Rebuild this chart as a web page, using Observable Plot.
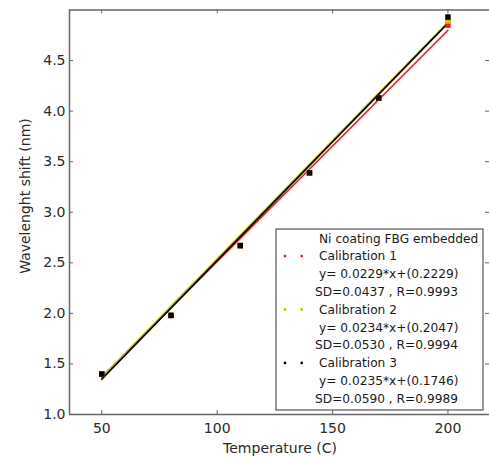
<!DOCTYPE html>
<html>
<head>
<meta charset="utf-8">
<script src="https://cdn.jsdelivr.net/npm/d3@7"></script>
<script src="https://cdn.jsdelivr.net/npm/@observablehq/plot@0.6"></script>
<style>
  html, body { margin: 0; padding: 0; background: #fff; }
  #chart { width: 489px; height: 457px; }
  svg { font-family: "DejaVu Sans", sans-serif; overflow: visible; }
</style>
</head>
<body>
<div id="chart"></div>
<script>
// ---- data ----
const temps = [50, 80, 110, 140, 170, 200];
const cal1 = [1.40, 1.98, 2.67, 3.39, 4.13, 4.85];
const cal2 = [1.40, 1.98, 2.67, 3.39, 4.13, 4.89];
const cal3 = [1.40, 1.98, 2.67, 3.39, 4.13, 4.93];
const seriesNames = ["Calibration 1", "Calibration 2", "Calibration 3"];
const seriesColors = ["#ff1a1a", "#c4c400", "#000000"];
const fitX = [50, 200];
const fitStart = [1.37, 1.37, 1.35];
const fitEnd = [4.80, 4.88, 4.87];
const equations = ["y= 0.0229*x+(0.2229)", "y= 0.0234*x+(0.2047)", "y= 0.0235*x+(0.1746)"];
const stats = ["SD=0.0437 , R=0.9993", "SD=0.0530 , R=0.9994", "SD=0.0590 , R=0.9989"];
const legendTitle = "Ni coating FBG embedded";
const xTicks = [50, 100, 150, 200];
const yTicks = [1.0, 1.5, 2.0, 2.5, 3.0, 3.5, 4.0, 4.5];
const xDomain = [36, 218];
const yDomain = [1, 5];
const xLabel = "Temperature (C)";
const yLabel = "Wavelenght shift (nm)";

// ---- tables ----
const allSeries = [cal1, cal2, cal3];
const points = [];
allSeries.forEach((vals, s) => vals.forEach((v, i) => points.push({s, x: temps[i], y: v})));
const fits = [];
seriesNames.forEach((n, s) => {
  fits.push({s, x: fitX[0], y: fitStart[s]});
  fits.push({s, x: fitX[1], y: fitEnd[s]});
});

const W = 489, H = 457;
const mL = 69, mR = 0, mT = 9.5, mB = 43;
const pxX = (xDomain[1] - xDomain[0]) / (W - mL - mR);
const pxY = (yDomain[1] - yDomain[0]) / (H - mT - mB);
const tick = 4;
const frameColor = "#666";

const chart = Plot.plot({
  width: W, height: H,
  marginLeft: mL, marginRight: mR, marginTop: mT, marginBottom: mB,
  x: {domain: xDomain},
  y: {domain: yDomain},
  style: {fontFamily: "DejaVu Sans", fontSize: "14px", color: "#2a2a2a"},
  marks: [
    Plot.axisX({ticks: xTicks, tickSize: 0, tickPadding: 9, label: null, fontSize: 14, tickFormat: d => String(d)}),
    Plot.axisY({ticks: yTicks, tickSize: 0, tickPadding: 4, label: null, fontSize: 14, tickFormat: d => d.toFixed(1)}),
    // fit lines
    Plot.line(fits, {x: "x", y: "y", z: "s", stroke: d => seriesColors[d.s], strokeWidth: 1.6}),
    // data markers
    Plot.dot(points, {x: "x", y: "y", fill: d => seriesColors[d.s], symbol: "square", r: 3.1, stroke: null}),
    // frame (left, top, bottom)
    Plot.ruleX([xDomain[0]], {stroke: frameColor, strokeWidth: 1.5}),
    Plot.ruleY([yDomain[0], yDomain[1]], {stroke: frameColor, strokeWidth: 1.5}),
    // inward ticks
    Plot.ruleX(xTicks, {y1: yDomain[0], y2: yDomain[0] + tick * pxY, stroke: frameColor, strokeWidth: 1}),
    Plot.ruleX(xTicks, {y1: yDomain[1], y2: yDomain[1] - tick * pxY, stroke: frameColor, strokeWidth: 1}),
    Plot.ruleY(yTicks, {x1: xDomain[0], x2: xDomain[0] + tick * pxX, stroke: frameColor, strokeWidth: 1}),
    Plot.ruleY(yTicks, {x1: xDomain[1], x2: xDomain[1] - tick * pxX, stroke: frameColor, strokeWidth: 1})
  ]
});

document.getElementById("chart").appendChild(chart);

// axis labels and legend
const svg = d3.select(chart);
svg.append("text")
  .attr("x", 280).attr("y", 453)
  .attr("text-anchor", "middle")
  .attr("font-size", 14).attr("fill", "#2a2a2a")
  .text(xLabel);
svg.append("text")
  .attr("transform", "translate(30,196) rotate(-90)")
  .attr("text-anchor", "middle")
  .attr("font-size", 14).attr("fill", "#2a2a2a")
  .text(yLabel);

const lg = svg.append("g").attr("font-size", 12.2).attr("fill", "#1a1a1a").attr("text-anchor", "start");
lg.append("rect")
  .attr("x", 276).attr("y", 229).attr("width", 207).attr("height", 181)
  .attr("fill", "#fff").attr("stroke", "#555").attr("stroke-width", 1.2);
const rowY0 = 238.3, rowDy = 17.8;
const rows = [{t: legendTitle, x: 319}];
seriesNames.forEach((n, s) => {
  rows.push({t: n, x: 319, s});
  rows.push({t: equations[s], x: 319});
  rows.push({t: stats[s], x: 315});
});
rows.forEach((r, i) => {
  const y = rowY0 + i * rowDy;
  lg.append("text").attr("x", r.x).attr("y", y).attr("dy", "0.35em").attr("text-anchor", "start").text(r.t);
  if (r.s !== undefined) {
    [285, 301.7].forEach(cx => lg.append("circle").attr("cx", cx).attr("cy", y).attr("r", 1.4).attr("fill", seriesColors[r.s]));
  }
});
</script>
</body>
</html>
